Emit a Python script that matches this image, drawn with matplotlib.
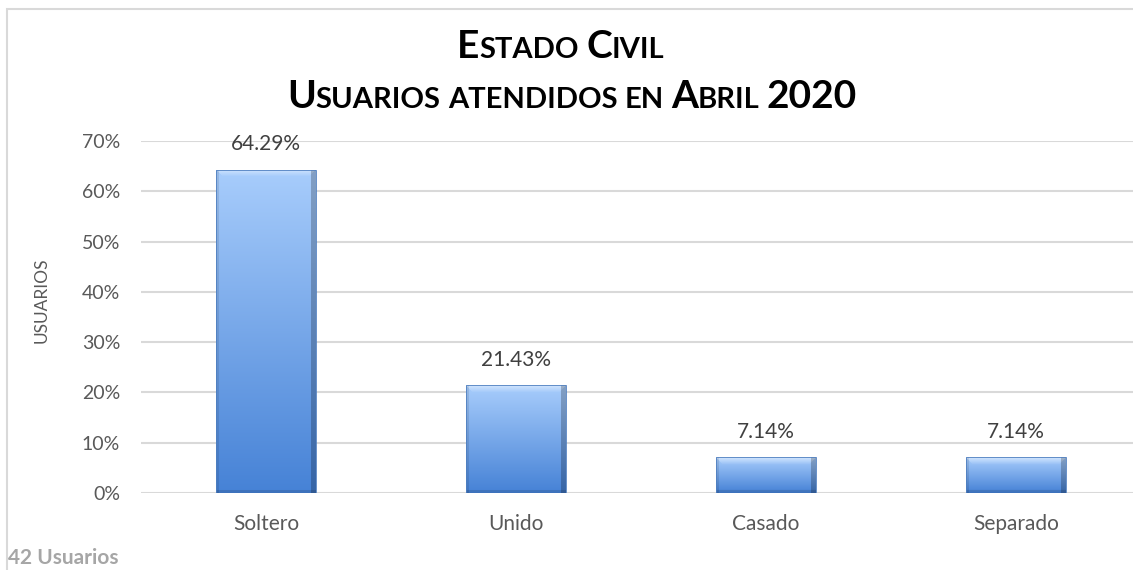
import matplotlib
matplotlib.use("Agg")
import matplotlib.pyplot as plt
import numpy as np
from matplotlib.patches import Rectangle

W, H = 1133, 570

categories = ["Soltero", "Unido", "Casado", "Separado"]
values = [64.29, 21.43, 7.14, 7.14]
y_ticks = [0, 10, 20, 30, 40, 50, 60, 70]
title_lines = ["Estado Civil", "Usuarios atendidos en Abril 2020"]
y_label = "USUARIOS"
footer = "42 Usuarios"

FONT = "Lato"
TXT = "#595959"


def bar_image(h_px, w_px):
    # vertical gradient with a bit of bevel like the excel bars
    h_px = max(int(h_px), 4)
    w_px = max(int(w_px), 4)
    top = np.array([168, 205, 252]) / 255.0
    bot = np.array([70, 130, 214]) / 255.0
    t = np.linspace(0, 1, h_px)[:, None, None]
    img = top + (bot - top) * t
    img = np.repeat(img, w_px, axis=1)
    bev = 7
    for r in range(min(bev, h_px)):
        k = 0.45 * (1 - r / bev)
        img[r, r:w_px - r] = img[r, r:w_px - r] * (1 - k) + k
    img[:, -5:] *= 0.78
    img[:, :3] *= 0.9
    img[-3:, :] *= 0.88
    return np.clip(img, 0, 1)


def small_caps(fig, cx, y, text, big, small, color="black"):
    r = fig.canvas.get_renderer()
    runs = []
    for ch in text:
        size = big if (ch.isupper() or ch.isdigit()) else small
        c = ch.upper()
        if runs and runs[-1][1] == size:
            runs[-1][0] += c
        else:
            runs.append([c, size])
    pieces = []
    total = 0
    for s, size in runs:
        words = s.split(" ")
        for i, wd in enumerate(words):
            if i > 0:
                a = fig.text(0, 0, "A A", fontsize=size, family=FONT, weight="bold")
                b = fig.text(0, 0, "AA", fontsize=size, family=FONT, weight="bold")
                sp = a.get_window_extent(r).width - b.get_window_extent(r).width
                a.remove()
                b.remove()
                total += sp
            if wd:
                t = fig.text(0, y, wd, fontsize=size, family=FONT, weight="bold",
                             color=color, ha="left", va="baseline")
                w = t.get_window_extent(r).width
                pieces.append((t, total))
                total += w
    x0 = cx * W - total / 2
    for t, off in pieces:
        t.set_x((x0 + off) / W)


fig = plt.figure(figsize=(W / 100, H / 100), dpi=100)
fig.patch.set_facecolor("white")

# chart frame (right/bottom edges fall outside the picture)
fig.patches.append(Rectangle((7 / W, -0.1), 1.2, (H - 9) / H + 0.1,
                             transform=fig.transFigure, fill=False,
                             edgecolor="#d9d9d9", linewidth=1.5))

left, right = 141, 1133
bottom, top = 493, 141
ax = fig.add_axes([left / W, (H - bottom) / H, (right - left) / W, (bottom - top) / H])
ax.set_facecolor("none")
x = np.arange(len(categories))
ax.set_xlim(-0.5, -0.5 + (right - left) / 250)
ax.set_ylim(0, 70)

for yv in y_ticks:
    ax.axhline(yv, color="#d9d9d9", linewidth=1.5, zorder=0)

bars = ax.bar(x, values, width=0.4, color="none", edgecolor="#4f7fc0",
              linewidth=0.6, zorder=3)
fig.canvas.draw()
for b, v in zip(bars, values):
    bb = b.get_window_extent()
    img = bar_image(bb.height, bb.width)
    im = ax.imshow(img, extent=(b.get_x(), b.get_x() + b.get_width(), 0, v),
                   aspect="auto", zorder=2, interpolation="bilinear")
    im.set_clip_path(b)
    ax.annotate(f"{v:.2f}%", (b.get_x() + b.get_width() / 2, v), xytext=(0, 11),
                textcoords="offset points", ha="center", va="bottom",
                fontsize=15, family=FONT, color="#404040")

ax.set_yticks(y_ticks)
ax.set_yticklabels([f"{v}%" for v in y_ticks])
ax.set_xticks(x)
ax.set_xticklabels(categories)
ax.tick_params(axis="both", length=0, labelcolor=TXT)
ax.tick_params(axis="y", pad=15, labelsize=14)
ax.tick_params(axis="x", pad=15, labelsize=15)
for lab in ax.get_xticklabels() + ax.get_yticklabels():
    lab.set_family(FONT)
for s in ax.spines.values():
    s.set_visible(False)

fig.text(42 / W, (H - 300) / H, y_label, rotation=90, ha="center", va="center",
         fontsize=12.5, family=FONT, color=TXT)
fig.text(8 / W, (H - 558) / H, footer, ha="left", va="center", fontsize=15,
         family=FONT, weight="bold", color="#a6a6a6")

small_caps(fig, 561 / W, (H - 58) / H, title_lines[0], 28, 21)
small_caps(fig, 572 / W, (H - 108) / H, title_lines[1], 28, 21)

fig.savefig("out.png", dpi=100)
